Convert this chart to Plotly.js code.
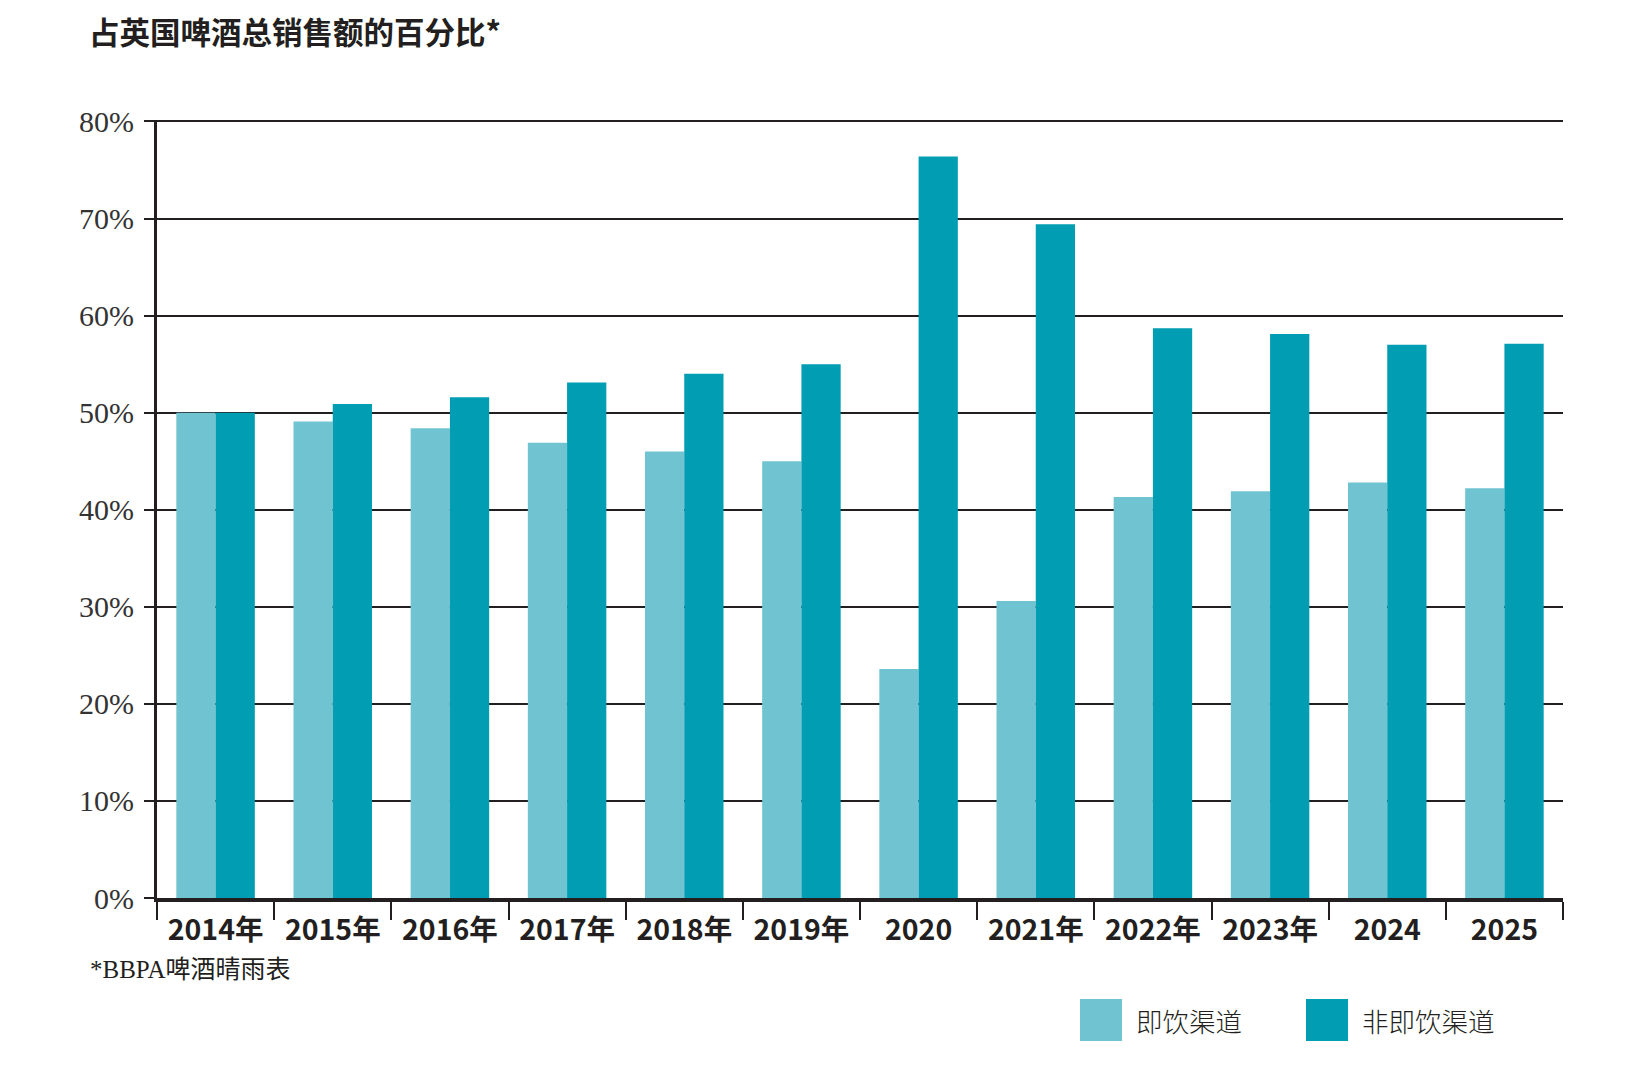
<!DOCTYPE html>
<html>
<head>
<meta charset="utf-8">
<script src="https://cdn.plot.ly/plotly-3.0.1.min.js"></script>
<style>html,body{margin:0;padding:0;background:#fff;}#chart{width:1637px;height:1079px;}</style>
</head>
<body>
<div id="chart"></div>
<script>
const categories = ["2014年","2015年","2016年","2017年","2018年","2019年","2020","2021年","2022年","2023年","2024","2025"];
const onTrade = [50.0, 49.1, 48.4, 46.9, 46.0, 45.0, 23.6, 30.6, 41.3, 41.9, 42.8, 42.2];
const offTrade = [50.0, 50.9, 51.6, 53.1, 54.0, 55.0, 76.4, 69.4, 58.7, 58.1, 57.0, 57.1];
const seriesNames = ["即饮渠道", "非即饮渠道"];
const yTicks = [0, 10, 20, 30, 40, 50, 60, 70, 80];
const titleText = "占英国啤酒总销售额的百分比*";
const footnote = "*BBPA啤酒晴雨表";

const lightC = "#70c3d0", darkC = "#009db3", ink = "#231f20";
const W = 1637, H = 1079;
const L = 157, R = 74, T = 120, B = 181;
const pw = W - L - R, ph = H - T - B;
const px = x => (x - L) / pw;
const py = y => (H - B - y) / ph;

const traces = [
  {type:"bar", name:seriesNames[0], x:categories, y:onTrade, marker:{color:lightC, line:{width:0}}, hoverinfo:"none"},
  {type:"bar", name:seriesNames[1], x:categories, y:offTrade, marker:{color:darkC, line:{width:0}}, hoverinfo:"none"}
];

const legendItems = [
  {color:lightC, x0:1080, text:seriesNames[0]},
  {color:darkC, x0:1306, text:seriesNames[1]}
];
const shapes = legendItems.map(it => ({type:"rect", xref:"paper", yref:"paper",
  x0:px(it.x0), x1:px(it.x0+42), y0:py(999), y1:py(1041), fillcolor:it.color, line:{width:0}}));
const annotations = legendItems.map(it => ({xref:"paper", yref:"paper", x:px(it.x0+54), y:py(1020),
  xanchor:"left", yanchor:"middle", showarrow:false, text:it.text,
  font:{family:"Noto Sans CJK SC", size:26.5, color:ink, weight:300}}));
annotations.push({xref:"paper", yref:"paper", x:px(88), y:py(969), xanchor:"left", yanchor:"middle",
  showarrow:false, text:footnote, font:{family:"Liberation Serif, Noto Sans CJK SC", size:25, color:ink}});

const layout = {
  width:W, height:H,
  margin:{l:L, r:R, t:T, b:B, pad:0},
  paper_bgcolor:"#fff", plot_bgcolor:"#fff",
  showlegend:false,
  barmode:"group", bargap:0.33, bargroupgap:0,
  title:{text:"<b>"+titleText+"</b>", xref:"container", yref:"container", x:89/W, xanchor:"left",
    y:1-33/H, yanchor:"middle", font:{family:"Noto Sans CJK SC", size:30.5, color:ink}},
  xaxis:{type:"category", showline:true, linecolor:ink, linewidth:4, showgrid:false,
    ticks:"outside", tickson:"boundaries", ticklen:18, tickwidth:2, tickcolor:ink,
    tickfont:{family:"Noto Sans CJK SC", size:28.5, color:ink, weight:"bold"}, ticklabelstandoff:4,
    fixedrange:true},
  yaxis:{range:[0,80.15], showline:true, linecolor:ink, linewidth:3, showgrid:true, gridcolor:ink, gridwidth:2,
    zeroline:false, tickvals:yTicks, ticktext:yTicks.map(v=>v+"%"),
    ticks:"outside", ticklen:10, tickwidth:2, tickcolor:ink, ticklabelstandoff:4,
    tickfont:{family:"Liberation Serif", size:30, color:"#333"}, fixedrange:true},
  shapes:shapes, annotations:annotations
};
Plotly.newPlot("chart", traces, layout, {displayModeBar:false, staticPlot:true});
</script>
</body>
</html>
